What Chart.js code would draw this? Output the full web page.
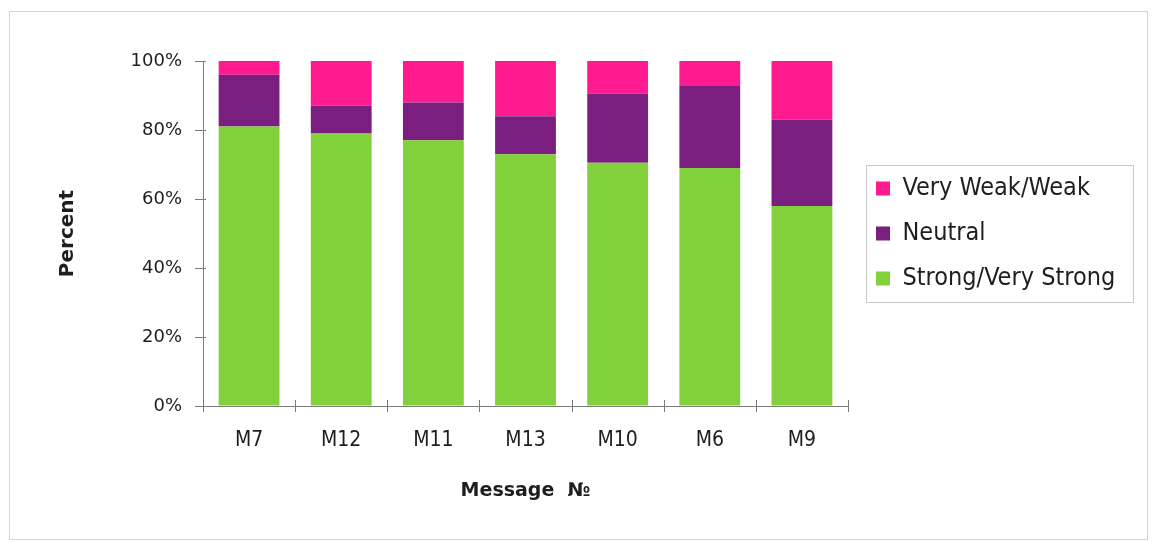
<!DOCTYPE html>
<html>
<head>
<meta charset="utf-8">
<script src="https://cdn.jsdelivr.net/npm/chart.js@4.4.1/dist/chart.umd.min.js"></script>
<style>
  html, body { margin: 0; padding: 0; background: #ffffff; }
  #wrap { position: relative; width: 1152px; height: 542px; }
</style>
</head>
<body>
<div id="wrap"><canvas id="c" width="1152" height="542"></canvas></div>
<script>
// Message ratings, percent of respondents per message
const categories = ['M7', 'M12', 'M11', 'M13', 'M10', 'M6', 'M9'];
const strongVeryStrong = [81, 79, 77, 73, 70.5, 69, 58];
const neutral = [15, 8, 11, 11, 20, 24, 25];
const veryWeakWeak = [4, 13, 12, 16, 9.5, 7, 17];
const yTicks = [0, 20, 40, 60, 80, 100];
const seriesNames = ['Strong/Very Strong', 'Neutral', 'Very Weak/Weak'];

const GREEN = '#82d03c';
const PURPLE = '#7a1f7f';
const PINK = '#ff1a8f';
const AXIS = '#7a7a7a';
const TEXT = '#1e1e1e';

const LEGEND_FONT = { family: "'DejaVu Sans Condensed', 'DejaVu Sans', sans-serif", size: 25 };
const LEGEND_BOX = 14;
const LEGEND_PAD = 20;
const PLOT_RIGHT = 848;
const LEGEND_GAP = 8;

// width the legend will claim, so the plot ends where it should
const canvas = document.getElementById('c');
const mctx = canvas.getContext('2d');
mctx.font = LEGEND_FONT.size + 'px ' + LEGEND_FONT.family;
const longest = Math.max(...seriesNames.map(s => mctx.measureText(s).width));
const legendWidth = LEGEND_PAD + LEGEND_BOX + LEGEND_FONT.size / 2 + longest + 10;
const rightPad = Math.max(0, canvas.width - PLOT_RIGHT - legendWidth);

// light frame around the whole figure
const frame = {
  id: 'frame',
  beforeDraw(chart) {
    const ctx = chart.ctx;
    ctx.save();
    ctx.fillStyle = '#ffffff';
    ctx.fillRect(0, 0, chart.width, chart.height);
    ctx.strokeStyle = '#d4d4d4';
    ctx.lineWidth = 1;
    ctx.strokeRect(9.5, 11.5, 1138, 528);
    ctx.restore();
  }
};

// leave a small gap between the plot and the legend
const legendNudge = {
  id: 'legendNudge',
  afterLayout(chart) {
    const lg = chart.legend;
    lg.left += LEGEND_GAP;
    lg.right += LEGEND_GAP;
  }
};

// tick marks that cross the axis lines
const tickCrosses = {
  id: 'tickCrosses',
  afterDraw(chart) {
    const { ctx, scales: { x, y } } = chart;
    ctx.save();
    ctx.strokeStyle = AXIS;
    ctx.lineWidth = 1;
    ctx.beginPath();
    yTicks.forEach(v => {
      const py = Math.round(y.getPixelForValue(v)) + 0.5;
      ctx.moveTo(x.left - 8, py);
      ctx.lineTo(x.left + 3, py);
    });
    for (let k = 0; k <= categories.length; k++) {
      const px = Math.round(x.getPixelForValue(k - 0.5)) + 0.5;
      ctx.moveTo(px, y.bottom - 6);
      ctx.lineTo(px, y.bottom + 6);
    }
    ctx.stroke();
    ctx.restore();
  }
};

// box around the legend entries
const legendFrame = {
  id: 'legendFrame',
  afterDraw(chart) {
    const boxes = chart.legend.legendHitBoxes;
    if (!boxes || !boxes.length) return;
    let l = Infinity, t = Infinity, r = -Infinity, b = -Infinity;
    boxes.forEach(h => {
      l = Math.min(l, h.left); t = Math.min(t, h.top);
      r = Math.max(r, h.left + h.width); b = Math.max(b, h.top + h.height);
    });
    const ctx = chart.ctx;
    ctx.save();
    ctx.strokeStyle = '#c8c8c8';
    ctx.lineWidth = 1;
    ctx.strokeRect(Math.round(l - 10) + 0.5, Math.round(t - 11) + 0.5,
                   Math.round(r - l + 28), Math.round(b - t + 22));
    ctx.restore();
  }
};

new Chart(canvas, {
  type: 'bar',
  data: {
    labels: categories,
    datasets: [
      { label: seriesNames[0], data: strongVeryStrong, backgroundColor: GREEN, borderWidth: 0 },
      { label: seriesNames[1], data: neutral, backgroundColor: PURPLE, borderWidth: 0 },
      { label: seriesNames[2], data: veryWeakWeak, backgroundColor: PINK, borderWidth: 0 }
    ]
  },
  options: {
    responsive: false,
    animation: false,
    devicePixelRatio: 1,
    layout: { padding: { left: 0, top: 61, right: rightPad, bottom: 0 } },
    datasets: { bar: { barPercentage: 0.66, categoryPercentage: 1.0 } },
    scales: {
      x: {
        stacked: true,
        afterFit(s) { s.height = 136; },
        border: { display: true, color: AXIS, width: 1 },
        grid: { display: true, drawOnChartArea: false, drawTicks: false },
        ticks: {
          padding: 22,
          maxRotation: 0,
          color: TEXT,
          font: { family: "'DejaVu Sans Condensed', sans-serif", size: 21 }
        },
        title: {
          display: true,
          text: 'Message  №',
          color: TEXT,
          font: { family: "'DejaVu Sans', sans-serif", size: 19, weight: 'bold' },
          padding: { top: 0, bottom: 40 }
        }
      },
      y: {
        stacked: true,
        min: 0,
        max: 100,
        afterFit(s) { s.width = 203; },
        afterBuildTicks(s) { s.ticks = yTicks.map(v => ({ value: v })); },
        border: { display: true, color: AXIS, width: 1 },
        grid: { display: true, drawOnChartArea: false, drawTicks: false },
        ticks: {
          padding: 21,
          color: TEXT,
          font: { family: "'DejaVu Sans', sans-serif", size: 18 },
          callback: v => v + '%'
        },
        title: {
          display: true,
          text: 'Percent',
          color: TEXT,
          font: { family: "'DejaVu Sans', sans-serif", size: 20, weight: 'bold' },
          padding: { top: 56, bottom: 0 }
        }
      }
    },
    plugins: {
      tooltip: { enabled: false },
      legend: {
        position: 'right',
        align: 'center',
        fullSize: false,
        reverse: true,
        labels: {
          boxWidth: LEGEND_BOX,
          boxHeight: LEGEND_BOX,
          padding: LEGEND_PAD,
          color: TEXT,
          font: LEGEND_FONT
        }
      }
    }
  },
  plugins: [frame, legendNudge, tickCrosses, legendFrame]
});
</script>
</body>
</html>
